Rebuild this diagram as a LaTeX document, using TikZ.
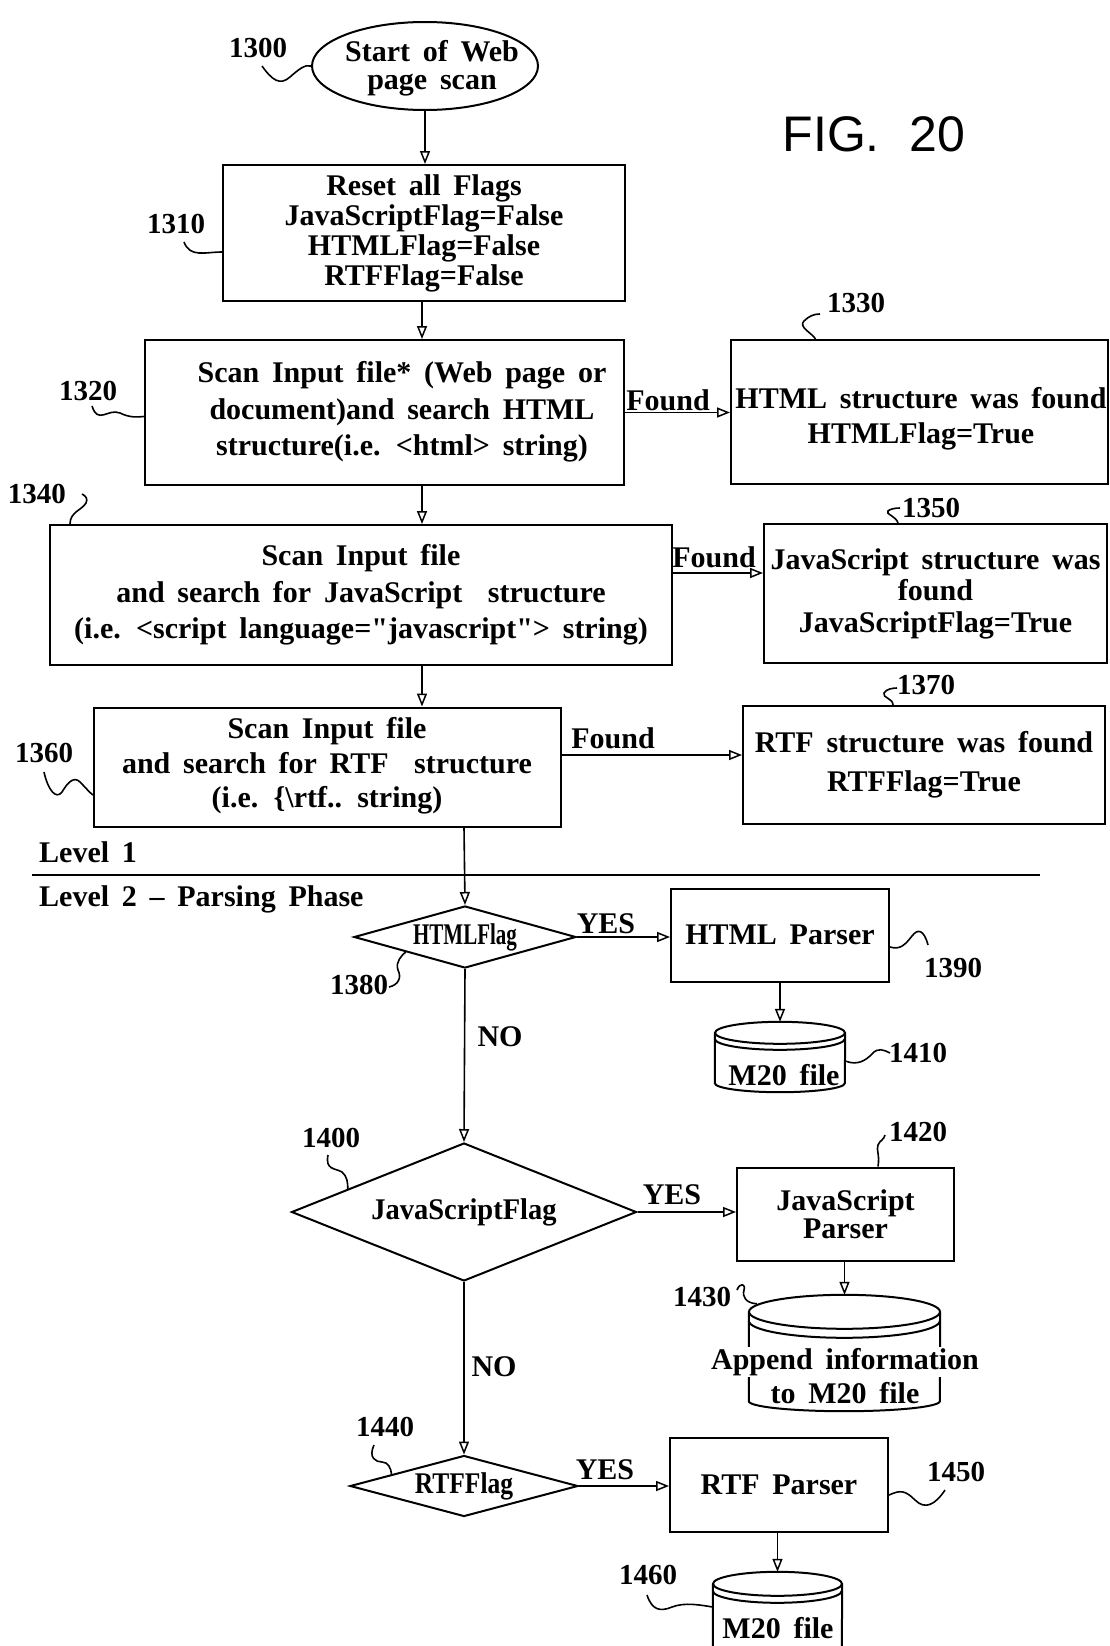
\documentclass[tikz,border=0pt]{standalone}
\usepackage{fontspec}
\setmainfont{Liberation Serif}[WordSpace=1.7, Ligatures=TeXOff]
\newfontfamily\figsans{Liberation Sans}
\usetikzlibrary{shapes.geometric,arrows.meta,calc}
\newcommand\ft[1]{\bfseries\fontsize{30}{#1}\selectfont}
\newcommand\cylbody[5]{%
  \draw[cylline] ([yshift=-#2]#1.north) ellipse [x radius=#5, y radius=#2];
  \draw[cylline] ([yshift=-#2-#3]#1.north west) arc[start angle=180, end angle=360, x radius=#5, y radius=#2];
  \draw[cylline] ([yshift=-#2]#1.north west) -- ([yshift=#4]#1.south west)
     arc[start angle=180, end angle=360, x radius=#5, y radius=#4] -- ([yshift=-#2]#1.north east);
}
\begin{document}
\begin{tikzpicture}[x=1pt,y=1pt,
  every node/.style={font=\ft{36}},
  box/.style={draw, line width=2pt, align=center, inner sep=0pt},
  dia/.style={diamond, draw, line width=2pt, aspect=3, inner sep=0pt},
  cylline/.style={line width=2pt},
  txt/.style={align=center, inner sep=0pt},
  num/.style={font=\bfseries\fontsize{29}{34}\selectfont, inner sep=0pt},
  flow/.style={line width=1.6pt, -{Triangle[open, length=13pt, width=10pt, line width=1.5pt]}},
  leader/.style={line width=1.6pt},
  sep/.style={line width=2pt}
]
\useasboundingbox (0,0) rectangle (1110,-1646);
\coordinate (spine) at (422,0);
\coordinate (spine2) at (464,0);

% ---- Level 1 ----
\node[ellipse, draw, line width=2pt, minimum width=226, minimum height=88, inner sep=0pt] (e1300) at (425,-66) {};
\node[txt, font=\ft{28}] (t1300) at (432,-68) {Start of Web\\page scan};
\node[num] (l1300) at (258,-48) {1300};

\node[font=\figsans\fontsize{50}{60}\selectfont] (fig) at (874,-134) {FIG.\hspace{0.6em}20};

\node[box, minimum width=402, minimum height=136, font=\ft{30}] (b1310) at (424,-233)
  {Reset all Flags\\JavaScriptFlag=False\\HTMLFlag=False\\RTFFlag=False};
\node[num] (l1310) at (176,-224) {1310};

\node[box, minimum width=479, minimum height=145] (b1320) at (384.5,-412.5) {};
\node[txt, font=\ft{36.5}] (t1320) at (402,-412) {Scan Input file* (Web page or\\document)and search HTML\\structure(i.e. <html> string)};
\node[num] (l1320) at (88,-391) {1320};

\node[box, minimum width=377, minimum height=144] (b1330) at (919.5,-412) {};
\node[txt, font=\ft{35}] (t1330) at (921,-419) {HTML structure was found\\HTMLFlag=True};
\node[num] (l1330) at (856,-303) {1330};

\node[box, minimum width=622, minimum height=140] (b1340) at (361,-595) {};
\node[txt, font=\ft{36.5}] (t1340) at (361,-595) {Scan Input file\\and search for JavaScript\ \ structure\\(i.e. <script language="javascript"> string)};
\node[num] (l1340) at (37,-494) {1340};

\node[box, minimum width=343, minimum height=139, font=\ft{31.5}] (b1350) at (935.5,-593.5)
  {JavaScript structure was\\found\\JavaScriptFlag=True};
\node[num] (l1350) at (931,-508) {1350};

\node[box, minimum width=467, minimum height=119] (b1360) at (327.5,-767) {};
\node[txt, font=\ft{34.5}] (t1360) at (327,-766) {Scan Input file\\and search for RTF\ \ structure\\(i.e. \{\textbackslash rtf.. string)};
\node[num] (l1360) at (44,-753) {1360};

\node[box, minimum width=362, minimum height=118, font=\ft{39}] (b1370) at (924,-765)
  {RTF structure was found\\RTFFlag=True};
\node[num] (l1370) at (926,-685) {1370};

\node[txt] (found1) at (668,-400) {Found};
\node[txt] (found2) at (714,-557) {Found};
\node[txt] (found3) at (613,-738) {Found};

% ---- separator ----
\coordinate (sepL) at (32,-875);
\coordinate (sepR) at (1040,-875);
\draw[sep] (sepL) -- (sepR);
\node[txt, anchor=west] (lev1) at (39,-852) {Level 1};
\node[txt, anchor=west] (lev2) at (39,-899) {Level 2 – Parsing Phase};

% ---- Level 2 ----
\node[dia, minimum width=222, minimum height=61] (d1380) at (465,-937) {\scalebox{0.7}[1]{HTMLFlag}};
\node[num] (l1380) at (359,-985) {1380};

\node[box, minimum width=218, minimum height=93, font=\ft{30}] (b1390) at (780,-935) {HTML Parser};
\node[num] (l1390) at (953,-968) {1390};

\node[draw=none, minimum width=130, minimum height=70, inner sep=0pt] (c1410) at (780,-1057) {};
\cylbody{c1410}{11}{6}{9}{65}
\node[txt, font=\ft{30}] (t1410) at (784,-1075) {M20 file};
\node[num] (l1410) at (918,-1053) {1410};

\node[dia, minimum width=345, minimum height=138] (d1400) at (464,-1212) {\scalebox{0.95}[1]{JavaScriptFlag}};
\node[num] (l1400) at (331,-1138) {1400};

\node[box, minimum width=217, minimum height=93, font=\ft{28}] (b1420) at (845.5,-1214) {JavaScript\\Parser};
\node[num] (l1420) at (918,-1132) {1420};

\node[draw=none, minimum width=191, minimum height=116, inner sep=0pt] (c1430) at (844.5,-1353) {};
\cylbody{c1430}{17}{9}{10}{95.5}
\node[txt, fill=white, inner sep=1pt] (t1430a) at (845,-1362) {Append information};
\node[txt] (t1430b) at (845,-1393) {to M20 file};
\node[num] (l1430) at (702,-1297) {1430};

\node[dia, minimum width=228, minimum height=61] (d1440) at (464,-1486) {\scalebox{0.85}[1]{RTFFlag}};
\node[num] (l1440) at (385,-1427) {1440};

\node[box, minimum width=218, minimum height=94, font=\ft{30}] (b1450) at (779,-1485) {RTF Parser};
\node[num] (l1450) at (956,-1472) {1450};

\node[draw=none, minimum width=129, minimum height=88, inner sep=0pt] (c1460) at (777.5,-1616) {};
\cylbody{c1460}{12}{7}{10}{64.5}
\node[txt, font=\ft{30}] (t1460) at (778,-1628) {M20 file};
\node[num] (l1460) at (648,-1575) {1460};

\node[txt] (yes1) at (606,-924) {YES};
\node[txt] (yes2) at (672,-1195) {YES};
\node[txt] (yes3) at (605,-1470) {YES};
\node[txt] (no1) at (500,-1037) {NO};
\node[txt] (no2) at (494,-1367) {NO};

% ---- connectors ----
\draw[flow] (e1300.south) -- (e1300.south |- b1310.north);
\draw[flow] (b1310.south -| spine) -- (b1320.north -| spine);
\draw[flow] (b1320.south -| spine) -- (b1340.north -| spine);
\draw[flow] (b1340.south -| spine) -- (b1360.north -| spine);
\draw[flow] (b1320.east) -- (b1320.east -| b1330.west);
\draw[flow] ([yshift=22]b1340.east) -- ([yshift=22]b1340.east -| b1350.west);
\draw[flow] ([yshift=12]b1360.east) -- ([yshift=12]b1360.east -| b1370.west);
\draw[flow] (b1360.south -| spine2) -- (d1380.north);
\draw[flow] (d1380.south) -- (d1400.north);
\draw[flow] (d1400.south) -- (d1440.north);
\draw[flow] (d1380.east) -- (d1380.east -| b1390.west);
\draw[flow] (d1400.east) -- (d1400.east -| b1420.west);
\draw[flow] (d1440.east) -- (d1440.east -| b1450.west);
\draw[flow] (b1390.south -| c1410.north) -- (c1410.north);
\draw[flow] (b1420.south -| c1430.north) -- (c1430.north);
\draw[flow] (b1450.south -| c1460.north) -- (c1460.north);

% ---- leaders ----
\draw[leader] (262,-66) .. controls (272,-80) and (280,-86) .. (290,-77) .. controls (298,-70) and (305,-64) .. (e1300.west);
\draw[leader] (184,-242) .. controls (190,-258) and (205,-252) .. ([yshift=-19]b1310.west);
\draw[leader] (92,-406) .. controls (98,-425) and (108,-408) .. (120,-413) .. controls (130,-418) and (138,-417) .. ([yshift=-4]b1320.west);
\draw[leader] ([xshift=-104]b1330.north) .. controls (812,-333) and (798,-327) .. (804,-321) .. controls (809,-316) and (814,-314) .. (820,-314);
\draw[leader] ([xshift=21]b1340.north west) .. controls (70,-512) and (82,-510) .. (86,-503) .. controls (88,-499) and (86,-496) .. (82,-494);
\draw[leader] ([xshift=-37.5]b1350.north) .. controls (896,-516) and (885,-514) .. (888,-511) .. controls (890,-509) and (895,-508) .. (900,-508);
\draw[leader] (44,-772) .. controls (48,-790) and (56,-800) .. (62,-792) .. controls (68,-782) and (74,-776) .. (80,-782) .. controls (85,-787) and (90,-793) .. ([yshift=-28]b1360.west);
\draw[leader] ([xshift=-31]b1370.north) .. controls (893,-698) and (882,-698) .. (884,-693) .. controls (886,-689) and (893,-688) .. (897,-688);
\draw[leader] (389,-987) .. controls (398,-985) and (402,-978) .. (398,-970) .. controls (395,-962) and (402,-955) .. ($(d1380.west)!0.47!(d1380.south)$);
\draw[leader] ([yshift=-12]b1390.east) .. controls (900,-950) and (905,-945) .. (912,-936) .. controls (918,-928) and (924,-930) .. (928,-945);
\draw[leader] ([yshift=-4]c1410.east) .. controls (858,-1066) and (866,-1060) .. (872,-1054) .. controls (878,-1047) and (884,-1050) .. (890,-1053);
\draw[leader] (328,-1155) .. controls (325,-1170) and (335,-1168) .. (342,-1172) .. controls (347,-1176) and (348,-1183) .. ($(d1400.west)!0.33!(d1400.north)$);
\draw[leader] ([xshift=32.5]b1420.north) .. controls (880,-1155) and (876,-1150) .. (878,-1145) .. controls (880,-1140) and (884,-1140) .. (885,-1135);
\draw[leader] (737,-1290) .. controls (740,-1282) and (746,-1284) .. (744,-1290) .. controls (742,-1297) and (746,-1303) .. ([xshift=8,yshift=-9]c1430.north west);
\draw[leader] (374,-1445) .. controls (368,-1458) and (376,-1462) .. (382,-1462) .. controls (388,-1462) and (391,-1468) .. ($(d1440.west)!0.37!(d1440.north)$);
\draw[leader] ([yshift=-10]b1450.east) .. controls (900,-1490) and (905,-1490) .. (915,-1500) .. controls (925,-1510) and (935,-1505) .. (945,-1490);
\draw[leader] (647,-1595) .. controls (652,-1610) and (660,-1612) .. (672,-1607) .. controls (685,-1602) and (700,-1605) .. ([yshift=9]c1460.west);
\end{tikzpicture}
\end{document}
